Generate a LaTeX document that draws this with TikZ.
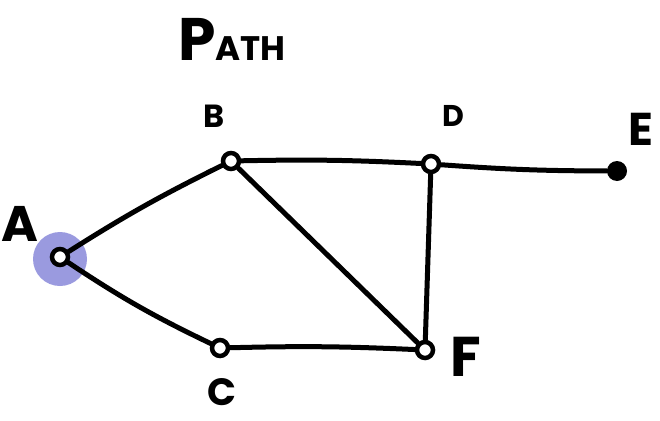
\documentclass[tikz,border=0pt]{standalone}
\usepackage{fontspec}
\setmainfont{Poppins}
\definecolor{halo}{HTML}{9A9ADF}
\tikzset{
  vert/.style={circle, draw=black, line width=4.5pt, inner sep=0pt, minimum size=16pt, fill=white},
  dotv/.style={circle, fill=black, inner sep=0pt, minimum size=20pt},
  edge/.style={line width=5pt, line cap=round, black},
  lbl/.style={font=\bfseries\fontsize{#1}{#1}\selectfont, inner sep=0pt, anchor=center},
}
\begin{document}
\begin{tikzpicture}[x=1pt, y=-1pt]
\useasboundingbox (0,0) rectangle (660,420);
\node[circle, fill=halo, minimum size=54pt, inner sep=0pt] (Ah) at (60,259) {};
\node[vert] (A) at (60,257) {};
\node[vert] (B) at (231,161) {};
\node[vert] (D) at (431,164) {};
\node[dotv] (E) at (617,171) {};
\node[vert] (C) at (220,348) {};
\node[vert] (F) at (425,350) {};
\draw[edge] (A) to[bend left=3] (B);
\draw[edge] (A) to[bend right=4] (C);
\draw[edge] (B) to[bend left=2] (D);
\draw[edge] (D) to[bend right=2] (E);
\draw[edge] (B) -- (F);
\draw[edge] (D) -- (F);
\draw[edge] (C) to[bend left=2] (F);
\node[lbl=50] (lA) at (20,224) {A};
\node[lbl=32] (lB) at (214,116) {B};
\node[lbl=30] (lD) at (453,116) {D};
\node[lbl=46] (lE) at (641,129) {E};
\node[lbl=38] (lC) at (222,392) {C};
\node[lbl=56] (lF) at (466,357) {F};
\node[inner sep=0pt, anchor=base west] (title) at (178,60) {\bfseries\fontsize{60}{60}\selectfont P\fontsize{34}{34}\selectfont ATH};
\end{tikzpicture}
\end{document}
